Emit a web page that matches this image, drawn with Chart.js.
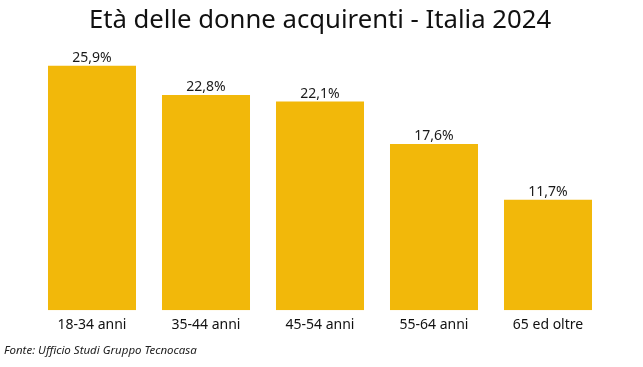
<!DOCTYPE html>
<html>
<head>
<meta charset="utf-8">
<script src="https://cdn.jsdelivr.net/npm/chart.js@4"></script>
<style>
  html, body { margin: 0; padding: 0; background: #fff; }
  #wrap { width: 643px; height: 367px; }
</style>
</head>
<body>
<div id="wrap"><canvas id="eta"></canvas></div>
<script>
// data
const categories = ["18-34 anni", "35-44 anni", "45-54 anni", "55-64 anni", "65 ed oltre"];
const shares = [25.9, 22.8, 22.1, 17.6, 11.7];
const source = 'Fonte: Ufficio Studi Gruppo Tecnocasa';

const FONT = "'Noto Sans', sans-serif";
const BAR_COLOR = '#F2B80A';

// labels above each bar, e.g. 25,9%  + the source line at the bottom left
const valueLabels = {
    id: 'valueLabels',
    afterDatasetsDraw(chart) {
        const ctx = chart.ctx;
        const meta = chart.getDatasetMeta(0);
        ctx.save();
        ctx.font = '14px ' + FONT;
        ctx.fillStyle = '#1a1a1a';
        ctx.textAlign = 'center';
        ctx.textBaseline = 'bottom';
        meta.data.forEach(function(bar, i) {
            var txt = shares[i].toFixed(1).replace('.', ',') + '%';
            ctx.fillText(txt, bar.x, bar.y - 1);
        });

        ctx.font = 'italic 11.5px ' + FONT;
        ctx.fillStyle = '#222';
        ctx.textAlign = 'left';
        ctx.textBaseline = 'alphabetic';
        ctx.fillText(source, 4, 354);
        ctx.restore();
    }
};

const data = {
    labels: categories,
    datasets: [{
        data: shares,
        backgroundColor: BAR_COLOR,
        borderWidth: 0,
        barPercentage: 0.772,
        categoryPercentage: 1
    }]
};

const config = {
    type: 'bar',
    data,
    options: {
        responsive: true,
        maintainAspectRatio: false,
        animation: false,
        layout: {
            padding: { left: 35, right: 38, top: 5, bottom: 28 }
        },
        plugins: {
            legend: { display: false },
            tooltip: { enabled: false },
            title: {
                display: true,
                text: 'Età delle donne acquirenti - Italia 2024',
                color: '#111',
                font: { family: FONT, size: 25.7, weight: 'normal' },
                padding: { top: 0, bottom: 10 }
            }
        },
        scales: {
            x: {
                grid: { display: false, drawTicks: false },
                border: { display: false },
                ticks: {
                    color: '#111',
                    padding: 6,
                    font: { family: FONT, size: 14 }
                }
            },
            y: {
                display: false,
                min: 0,
                max: 28
            }
        }
    },
    plugins: [valueLabels]
};

var myChart = new Chart(document.getElementById('eta'), config);
</script>
</body>
</html>
